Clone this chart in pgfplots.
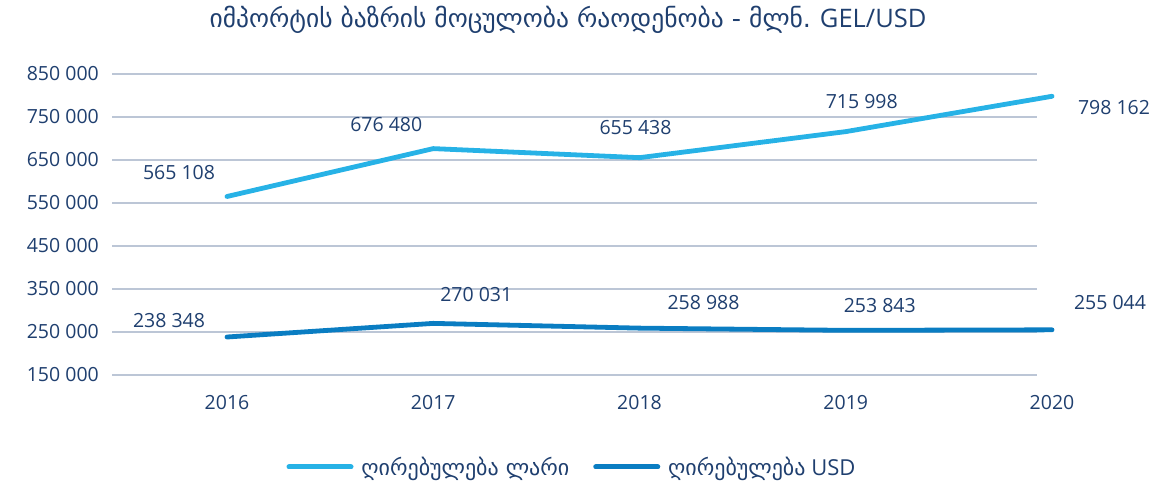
\documentclass[border=0pt]{standalone}
\usepackage{fontspec}
\setmainfont{Open Sans}
\newfontfamily\geo{DejaVu Sans}
\usepackage{pgfplots}
\usepackage{pgfplotstable}
\pgfplotsset{compat=1.18}
\definecolor{tc}{HTML}{1F3F6F}
\definecolor{gelc}{HTML}{27B2E6}
\definecolor{usdc}{HTML}{0A7DC2}
\definecolor{gridc}{HTML}{BCC6D6}

\pgfplotstableread[col sep=comma]{
x,y,dx,dy,lbl
0,565108,-48,24,565 108
1,676480,-47,24,676 480
2,655438,-4,30,655 438
3,715998,16,30,715 998
4,798162,62,-11,798 162
}\gel

\pgfplotstableread[col sep=comma]{
x,y,dx,dy,lbl
0,238348,-58,16.5,238 348
1,270031,43,29,270 031
2,258988,64,25.6,258 988
3,253843,34,24.4,253 843
4,255044,58,27.3,255 044
}\usd

\begin{document}
\begin{tikzpicture}
\useasboundingbox (0,0) rectangle (1173bp,483bp);
\begin{axis}[
  at={(112bp,108bp)}, anchor=south west,
  width=940bp, height=301bp, scale only axis,
  xmin=-0.5576, xmax=4, ymin=150000, ymax=850000,
  clip=false,
  scaled y ticks=false,
  axis line style={draw=none},
  major tick length=0pt,
  xtick={0,1,2,3,4}, xticklabels={2016,2017,2018,2019,2020},
  ytick={150000,250000,350000,450000,550000,650000,750000,850000},
  yticklabels={150 000,250 000,350 000,450 000,550 000,650 000,750 000,850 000},
  ticklabel style={font=\fontsize{19.5bp}{23bp}\selectfont, text=tc},
  yticklabel style={anchor=east, inner sep=0pt, xshift=-13bp},
  xticklabel style={anchor=north, inner sep=0pt, yshift=-20bp},
  legend style={at={(0.4893,-0.3056)}, anchor=center, draw=none, fill=none,
    font=\fontsize{22bp}{26bp}\selectfont, text=tc,
    /tikz/every even column/.append style={column sep=22bp}},
  legend columns=2,
  legend image code/.code={\draw[#1, line width=5bp, line cap=round] (0bp,0bp) -- (62bp,0bp); \path (68bp,0bp);},
  every node near coord/.append style={anchor=center, text=tc, font=\fontsize{19.5bp}{23bp}\selectfont},
]
\pgfplotsinvokeforeach{150000,250000,350000,450000,550000,650000,750000,850000}{
  \draw[gridc, line width=1.3bp] (axis cs:-0.5576,#1) -- (axis cs:3.927,#1);
}
\addplot[gelc, line width=4.8bp, line cap=round, line join=round, no markers,
  nodes near coords, point meta=explicit symbolic,
  visualization depends on={\thisrow{dx}\as\dx},
  visualization depends on={\thisrow{dy}\as\dy},
  nodes near coords style={xshift=\dx bp, yshift=\dy bp}]
  table[x=x, y=y, meta=lbl] {\gel};
\addlegendentry{\geo ღირებულება ლარი}
\addplot[usdc, line width=4.8bp, line cap=round, line join=round, no markers,
  nodes near coords, point meta=explicit symbolic,
  visualization depends on={\thisrow{dx}\as\dx},
  visualization depends on={\thisrow{dy}\as\dy},
  nodes near coords style={xshift=\dx bp, yshift=\dy bp}]
  table[x=x, y=y, meta=lbl] {\usd};
\addlegendentry{{\geo ღირებულება} USD}
\end{axis}
\node[text=tc, font=\fontsize{25.5bp}{30bp}\selectfont, anchor=center] at (568bp,463bp)
  {{\geo იმპორტის ბაზრის მოცულობა რაოდენობა - მლნ.} GEL/USD};
\end{tikzpicture}
\end{document}
